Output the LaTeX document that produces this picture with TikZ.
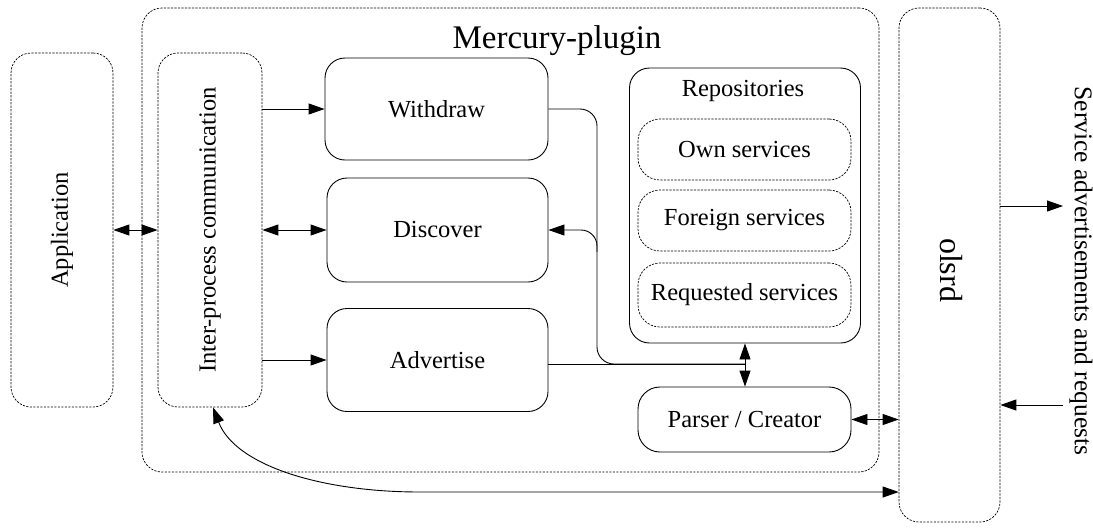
\documentclass[tikz,border=0pt]{standalone}
\usepackage{fontspec}
\setmainfont{Liberation Serif}
\usetikzlibrary{arrows.meta}
\begin{document}
\begin{tikzpicture}[x=1pt,y=-1pt,
  font=\fontsize{24.5}{28}\selectfont,
  >={Triangle[length=16pt,width=11pt]},
  link/.style={line width=0.9pt},
  solidbox/.style={draw, line width=0.9pt, rounded corners=20pt, inner sep=0pt},
  dashbox/.style={draw, line width=0.7pt, dash pattern=on 2.2pt off 1.3pt, rounded corners=20pt, inner sep=0pt},
  innerbox/.style={dashbox, rounded corners=22pt},
  sz/.style n args={2}{minimum width=#1, minimum height=#2}]
\useasboundingbox (0,0) rectangle (1093,531);

% outer containers
\node[dashbox, sz={737pt}{464pt}] (plugin) at (510.5,240) {};
\node[font=\fontsize{33}{36}\selectfont, anchor=base] (plugintitle) at (557,48) {Mercury-plugin};
\node[dashbox, sz={102pt}{354pt}] (app) at (62,230) {};
\node[rotate=90] (applabel) at (app.center) {Application};
\node[dashbox, sz={104pt}{354pt}] (ipc) at (210,230) {};
\node[rotate=90] (ipclabel) at (ipc.center) {Inter-process communication};
\node[dashbox, sz={101pt}{514pt}] (olsrd) at (949.5,265) {};
\node[rotate=-90, font=\fontsize{32}{36}\selectfont] (olsrdlabel) at (951,270) {olsrd};

% plugin modules
\node[solidbox, sz={223pt}{102pt}] (withdraw) at (436.5,109) {Withdraw};
\node[solidbox, sz={221pt}{104pt}] (discover) at (437.5,230) {Discover};
\node[solidbox, sz={221pt}{103pt}] (advertise) at (437.5,360) {Advertise};

% repositories
\node[solidbox, sz={231pt}{275pt}] (repo) at (745,205.5) {};
\node[anchor=base] (repotitle) at (743,96) {Repositories};
\node[innerbox, sz={213pt}{61pt}] (own) at (744.5,149.5) {Own services};
\node[innerbox, sz={213pt}{61pt}] (foreign) at (744.5,220.5) {Foreign services};
\node[innerbox, sz={213pt}{64pt}] (requested) at (744.5,295) {Requested services};
\node[solidbox, rounded corners=22pt, sz={213pt}{65pt}] (parser) at (744.5,419.5) {Parser / Creator};

% external label
\node[rotate=-90, font=\fontsize{25.5}{28}\selectfont] (extlabel) at (1081,271) {Service advertisements and requests};

% junction points
\coordinate (tap) at (597,364);
\coordinate (hub) at (745,364);
\coordinate (split) at (597,252);
\coordinate (low) at (420,492);
\coordinate (outA) at (1063,206);
\coordinate (inB) at (1063,405);

% connectors
\draw[link,<->] (app.east) -- (ipc.west);
\draw[link,->] (ipc.east |- withdraw.west) -- (withdraw.west);
\draw[link,<->] (ipc.east) -- (discover.west);
\draw[link,->] (ipc.east |- advertise.west) -- (advertise.west);
\draw[link, rounded corners=17pt] (withdraw.east) -| (tap) -- (hub);
\draw[link] (advertise.east |- hub) -- (hub);
\draw[link,->, rounded corners=16pt] (split) |- (discover.east);
\draw[link,<->] (repo.south -| hub) -- (parser.north -| hub);
\draw[link,<->] (parser.east) -- (parser.east -| olsrd.west);
\draw[link,<->] ([xshift=3pt]ipc.south) .. controls (235,465) and (320,492) .. (low) -- (low -| olsrd.west);
\draw[link,->] (olsrd.east |- outA) -- (outA);
\draw[link,->] (inB) -- (olsrd.east |- inB);
\end{tikzpicture}
\end{document}
